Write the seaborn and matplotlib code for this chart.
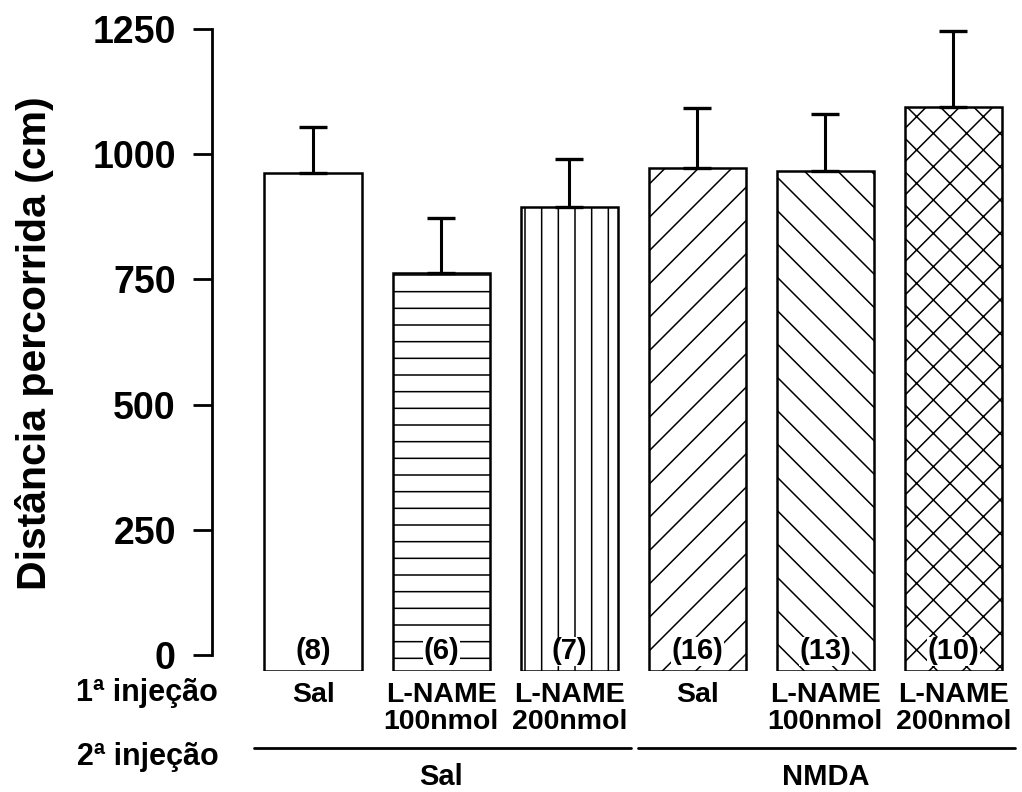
"""Distância percorrida por grupo de injeção (barras com hachuras)."""

import matplotlib

matplotlib.use("Agg")

import matplotlib.pyplot as plt
import matplotlib.transforms as mtransforms
import pandas as pd
import seaborn as sns

# data
first_injection = ["Sal", "L-NAME\n100nmol", "L-NAME\n200nmol",
                   "Sal", "L-NAME\n100nmol", "L-NAME\n200nmol"]
second_injection = ["Sal", "Sal", "Sal", "NMDA", "NMDA", "NMDA"]
mean_distance = [963, 762, 895, 973, 967, 1094]
sem_distance = [92, 111, 96, 120, 113, 152]
n_animals = [8, 6, 7, 16, 13, 10]
hatches = ["", "-", "|", "/", "\\", "x"]
y_ticks = [0, 250, 500, 750, 1000, 1250]

Y_BOTTOM = -32  # bars in the original start a little below the 0 tick
FONT = ["Liberation Sans", "DejaVu Sans"]

sns.set_theme(style="ticks")
plt.rcParams["font.family"] = FONT
plt.rcParams["font.weight"] = "bold"
plt.rcParams["hatch.linewidth"] = 1.1
for key in ["text.color", "axes.labelcolor", "xtick.color", "ytick.color",
            "axes.edgecolor"]:
    plt.rcParams[key] = "black"

df = pd.DataFrame({
    "grupo": [f"{s} | {f}" for s, f in zip(second_injection, first_injection)],
    "distancia": mean_distance,
})

fig = plt.figure(figsize=(10.22, 7.92), dpi=100)
ax = fig.add_axes([0.2074, 0.1528, 0.7906, 0.8106])

sns.barplot(
    data=df, x="grupo", y="distancia", color="white", saturation=1,
    edgecolor="black", linewidth=1.8, width=0.76, errorbar=None, ax=ax,
)

for patch, hatch in zip(ax.patches, hatches):
    patch.set_hatch(hatch)
    top = patch.get_y() + patch.get_height()
    patch.set_y(Y_BOTTOM)
    patch.set_height(top - Y_BOTTOM)

xs = list(range(len(mean_distance)))
ax.errorbar(
    xs, mean_distance, yerr=[[0] * len(sem_distance), sem_distance],
    fmt="none", ecolor="black", elinewidth=2.2, capsize=10, capthick=2.4,
    zorder=1,
)

ax.set_ylim(Y_BOTTOM, 1250)
ax.set_xlim(-0.79, 5.52)
ax.set_yticks(y_ticks)
ax.set_yticklabels([str(t) for t in y_ticks], fontsize=27, fontweight="bold")
ax.tick_params(axis="y", length=14, width=2.0, pad=12)
ax.spines["left"].set_bounds(0, 1250)
ax.spines["left"].set_linewidth(2.0)
for side in ["top", "right", "bottom"]:
    ax.spines[side].set_visible(False)

ax.set_xticks(xs)
ax.set_xticklabels(first_injection, fontsize=20.5, fontweight="bold",
                   linespacing=1.05, va="top")
ax.tick_params(axis="x", length=0, pad=8)
ax.set_xlabel("")
ax.set_ylabel("Distância percorrida (cm)", fontsize=29.5, fontweight="bold")
ax.yaxis.set_label_coords(-0.196, 0.51)

trans = mtransforms.blended_transform_factory(ax.transData, ax.transAxes)

# n per group, sitting at the bottom of each bar
for x, n in zip(xs, n_animals):
    ax.annotate(
        f"({n})", xy=(x, 0), xycoords=trans, xytext=(0, 4),
        textcoords="offset points", ha="center", va="bottom",
        fontsize=21, fontweight="bold",
        bbox=dict(facecolor="white", edgecolor="none", pad=0.5),
    )

# row labels
ax.text(-0.74, -0.034, "1ª injeção", transform=trans, ha="right",
        va="center", fontsize=22, fontweight="bold")
ax.text(-0.74, -0.134, "2ª injeção", transform=trans, ha="right",
        va="center", fontsize=22, fontweight="bold")

# second injection groups: line + label
groups = ["Sal", "NMDA"]
for g in groups:
    idx = [i for i, s in enumerate(second_injection) if s == g]
    lo, hi = idx[0] - 0.46, idx[-1] + 0.48
    ax.plot([lo, hi], [-0.12, -0.12], transform=trans, color="black",
            lw=2.0, clip_on=False)
    ax.text((idx[0] + idx[-1]) / 2, -0.165, g, transform=trans,
            ha="center", va="center", fontsize=21, fontweight="bold")

fig.savefig("out.png", dpi=100)
plt.close(fig)
